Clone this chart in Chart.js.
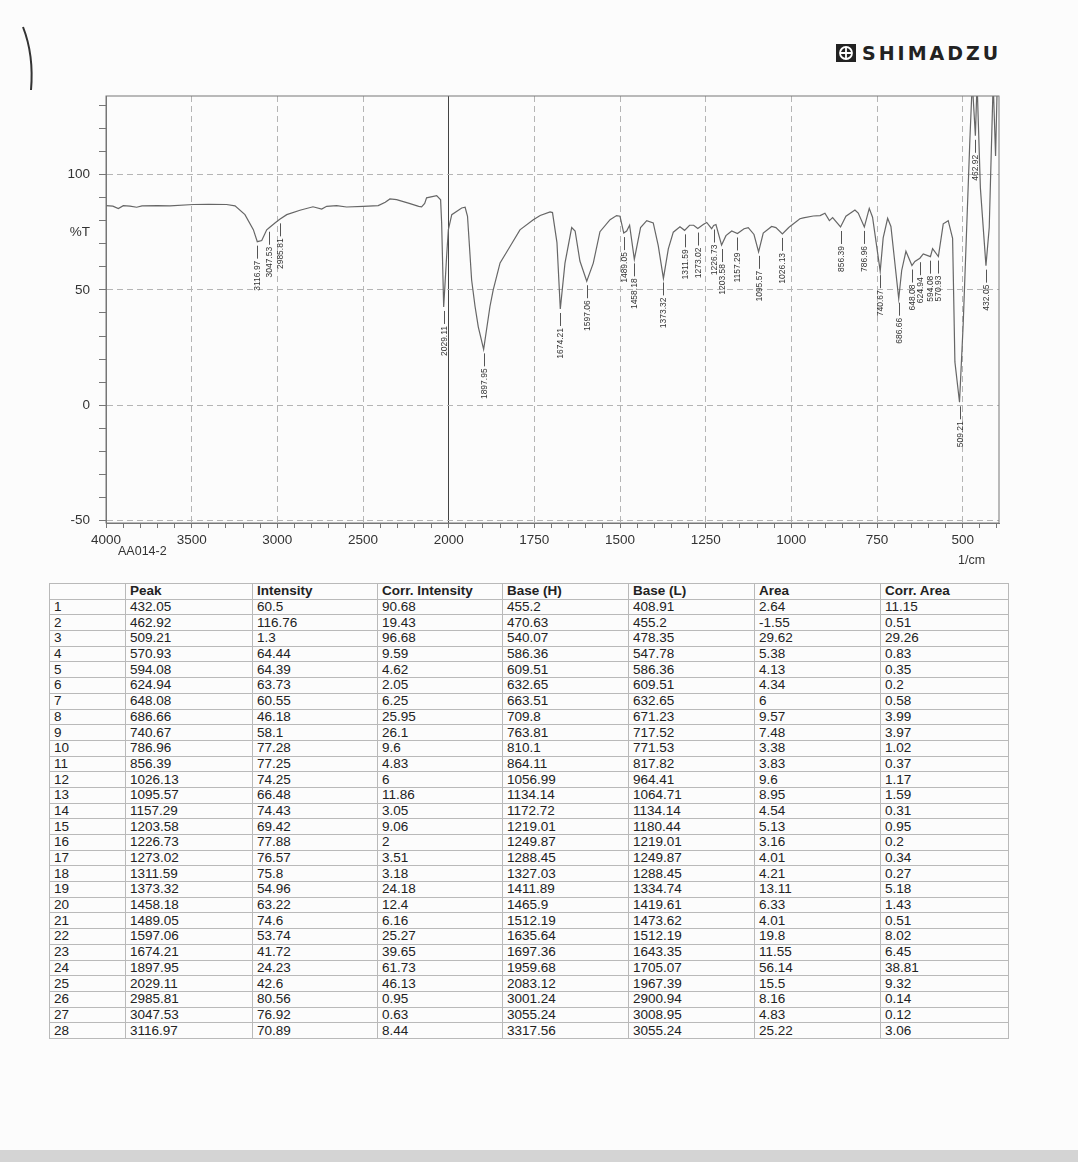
<!DOCTYPE html>
<html>
<head>
<meta charset="utf-8">
<script src="https://cdn.jsdelivr.net/npm/chart.js@4.4.1/dist/chart.umd.min.js"></script>
<style>
  body { margin: 0; width: 1078px; height: 1162px; background: #fcfcfc; overflow: hidden; position: relative;
         font-family: "Liberation Sans", Arial, sans-serif; color: #222; }
  #chartBox { position: absolute; left: 0; top: 0; width: 1078px; height: 575px; }
  #logo { position: absolute; left: 836px; top: 42px; display: flex; align-items: center; }
  #logo span { font-family: "DejaVu Sans", sans-serif; font-weight: bold; font-size: 19px; letter-spacing: 3px; margin-left: 6px; color: #222; }
  .note { position: absolute; font-size: 12.5px; color: #333; }
  #peakTable { position: absolute; left: 49px; top: 583px; width: 959px; border-collapse: collapse; table-layout: fixed; font-size: 13.5px; }
  #peakTable td, #peakTable th { border: 1px solid #b9b9b9; height: 14.7px; padding: 0 0 0 4px; text-align: left; line-height: 14px; white-space: nowrap; font-weight: normal; color: #222; }
  #peakTable th { font-weight: bold; }
  #scanMark { position: absolute; left: 0; top: 0; }
  #bottomBand { position: absolute; left: 0; top: 1150px; width: 1078px; height: 12px; background: #d4d4d4; }
</style>
</head>
<body>
<svg id="scanMark" width="60" height="100"><path d="M23 27 Q34 55 31 90" stroke="#333" stroke-width="2" fill="none"/></svg>
<div id="logo">
  <svg width="20" height="18"><rect x="0" y="0" width="20" height="18" fill="#222"/><circle cx="10" cy="9" r="6" stroke="#fff" stroke-width="1.8" fill="none"/><path d="M10 3 V15 M4 9 H16" stroke="#fff" stroke-width="1.8"/></svg>
  <span>SHIMADZU</span>
</div>
<div id="chartBox"><canvas id="irChart"></canvas></div>
<div class="note" style="left:118px; top:544px;">AA014-2</div>
<div class="note" style="left:958px; top:553px;">1/cm</div>
<table id="peakTable"></table>
<div id="bottomBand"></div>
<script>
// peak table
const peaks = [432.05, 462.92, 509.21, 570.93, 594.08, 624.94, 648.08, 686.66, 740.67, 786.96, 856.39, 1026.13, 1095.57, 1157.29,
  1203.58, 1226.73, 1273.02, 1311.59, 1373.32, 1458.18, 1489.05, 1597.06, 1674.21, 1897.95, 2029.11, 2985.81, 3047.53, 3116.97];
const intensity = [60.5, 116.76, 1.3, 64.44, 64.39, 63.73, 60.55, 46.18, 58.1, 77.28, 77.25, 74.25, 66.48, 74.43,
  69.42, 77.88, 76.57, 75.8, 54.96, 63.22, 74.6, 53.74, 41.72, 24.23, 42.6, 80.56, 76.92, 70.89];
const corrIntensity = [90.68, 19.43, 96.68, 9.59, 4.62, 2.05, 6.25, 25.95, 26.1, 9.6, 4.83, 6, 11.86, 3.05,
  9.06, 2, 3.51, 3.18, 24.18, 12.4, 6.16, 25.27, 39.65, 61.73, 46.13, 0.95, 0.63, 8.44];
const baseH = [455.2, 470.63, 540.07, 586.36, 609.51, 632.65, 663.51, 709.8, 763.81, 810.1, 864.11, 1056.99, 1134.14, 1172.72,
  1219.01, 1249.87, 1288.45, 1327.03, 1411.89, 1465.9, 1512.19, 1635.64, 1697.36, 1959.68, 2083.12, 3001.24, 3055.24, 3317.56];
const baseL = [408.91, 455.2, 478.35, 547.78, 586.36, 609.51, 632.65, 671.23, 717.52, 771.53, 817.82, 964.41, 1064.71, 1134.14,
  1180.44, 1219.01, 1249.87, 1288.45, 1334.74, 1419.61, 1473.62, 1512.19, 1643.35, 1705.07, 1967.39, 2900.94, 3008.95, 3055.24];
const area = [2.64, -1.55, 29.62, 5.38, 4.13, 4.34, 6, 9.57, 7.48, 3.38, 3.83, 9.6, 8.95, 4.54,
  5.13, 3.16, 4.01, 4.21, 13.11, 6.33, 4.01, 19.8, 11.55, 56.14, 15.5, 8.16, 4.83, 25.22];
const corrArea = [11.15, 0.51, 29.26, 0.83, 0.35, 0.2, 0.58, 3.99, 3.97, 1.02, 0.37, 1.17, 1.59, 0.31,
  0.95, 0.2, 0.34, 0.27, 5.18, 1.43, 0.51, 8.02, 6.45, 38.81, 9.32, 0.14, 0.12, 3.06];
const tableHeaders = ['', 'Peak', 'Intensity', 'Corr. Intensity', 'Base (H)', 'Base (L)', 'Area', 'Corr. Area'];

// traced spectrum, wavenumber (1/cm) and %T
const specWn = [4000, 3960, 3928, 3899, 3860, 3821, 3790, 3700, 3627, 3490, 3400, 3296, 3247, 3189, 3140, 3116.97, 3091, 3062,
  3047.53, 3014, 2985.81, 2945, 2868, 2792, 2741, 2712, 2654, 2596, 2499, 2411, 2370, 2343, 2304, 2230, 2175, 2158, 2140, 2129,
  2070, 2047, 2041, 2029.11, 2012, 2002, 1991, 1962, 1952, 1945, 1933, 1923, 1913.6, 1897.95, 1879.5, 1870, 1850, 1821, 1792,
  1753, 1733, 1704, 1697, 1684, 1674.21, 1660.6, 1641, 1631, 1617, 1597.06, 1578, 1558.5, 1529, 1510, 1500, 1489.05, 1480.6,
  1472, 1458.18, 1440, 1422, 1403, 1388.4, 1373.32, 1359, 1344.5, 1325, 1311.59, 1297, 1285, 1273.02, 1257, 1247, 1232.6,
  1226.73, 1220, 1203.58, 1190.8, 1174, 1157.29, 1138, 1125.7, 1109, 1095.57, 1082, 1057.5, 1045, 1026.13, 1009, 1004, 975,
  965, 936, 916, 902, 889, 879.5, 856.39, 840.7, 814.4, 804.8, 786.96, 772.6, 763, 740.67, 732, 719, 709.4, 686.66, 678, 665.6,
  648.08, 639.4, 624.94, 615, 594.08, 587.8, 570.93, 556.7, 542.2, 529.4, 522.7, 509.21, 498.4, 479, 472, 462.92, 458, 448.4,
  432.05, 422.5, 411, 404, 399, 394];
const specT = [86.5, 86.3, 85.2, 86.5, 86.3, 85.8, 86.4, 86.5, 86.4, 87.0, 87.1, 87.0, 86.4, 82.6, 76.1, 70.89, 71.4, 76.0,
  76.92, 79.0, 80.56, 82.6, 84.5, 86.0, 85.0, 86.2, 86.5, 85.9, 86.2, 86.5, 88.0, 89.4, 89.1, 87.5, 86.2, 86.0, 87.5, 89.9,
  90.8, 89.0, 79.0, 42.6, 64.5, 76.0, 82.6, 85.5, 85.8, 81.9, 54.3, 42.8, 34.0, 24.23, 42.8, 50.0, 61.7, 68.8, 76.0,
  80.4, 82.2, 83.8, 83.5, 70.5, 41.72, 61.6, 77.0, 75.5, 62.5, 53.74, 61.6, 75.2, 80.4, 82.2, 81.9, 74.6, 75.5,
  78.0, 63.22, 77.0, 80.0, 79.0, 69.2, 54.96, 67.8, 75.0, 77.3, 75.8, 78.0, 78.0, 76.57, 78.3, 79.2, 76.5,
  77.88, 78.3, 69.42, 73.5, 75.5, 74.43, 76.5, 77.0, 74.0, 66.48, 74.6, 77.5, 77.0, 74.25, 76.8, 77.5, 80.8,
  81.2, 82.0, 82.2, 83.2, 80.0, 81.3, 77.25, 81.9, 84.6, 83.3, 77.28, 85.3, 81.5, 58.1, 72.5, 81.0, 77.5, 46.18, 58.4, 66.7,
  60.55, 62.3, 63.73, 65.6, 64.39, 67.9, 64.44, 78.6, 80.0, 72.3, 18.8, 1.3, 35.5, 115, 140, 116.76, 140, 94.3,
  60.5, 77, 140, 108, 140, 140];

// axis ticks
const xMajor = [4000, 3500, 3000, 2500, 2000, 1750, 1500, 1250, 1000, 750, 500];
const xTicks = [];
for (let v = 4000; v >= 2000; v -= 100) xTicks.push(v);
for (let v = 1950; v >= 400; v -= 50) xTicks.push(v);
const yMajor = [-50, 0, 50, 100];
const yTicks = [-50, -40, -30, -20, -10, 0, 10, 20, 30, 40, 50, 60, 70, 75, 80, 90, 100, 110, 120, 130];

// build the table
const tbl = document.getElementById('peakTable');
const widths = [76, 127, 125, 125, 126, 126, 126, 128];
let html = '<colgroup>' + widths.map(w => `<col style="width:${w}px">`).join('') + '</colgroup>';
html += '<tr>' + tableHeaders.map(h => `<th>${h}</th>`).join('') + '</tr>';
peaks.forEach((p, i) => {
  const row = [i + 1, p, intensity[i], corrIntensity[i], baseH[i], baseL[i], area[i], corrArea[i]];
  html += '<tr>' + row.map(v => `<td>${v}</td>`).join('') + '</tr>';
});
tbl.innerHTML = html;

// x axis: 4000-2000 compressed to half the scale of 2000-400
class BreakScale extends Chart.LinearScale {
  toU(v) { return v >= 2000 ? (4000 - v) / 2 : 1000 + (2000 - v); }
  getPixelForValue(v) {
    const u0 = this.toU(this.max), u1 = this.toU(this.min);
    return this.left + (this.toU(v) - u0) / (u1 - u0) * this.width;
  }
  getValueForPixel(p) {
    const u0 = this.toU(this.max), u1 = this.toU(this.min);
    const u = u0 + (p - this.left) / this.width * (u1 - u0);
    return u <= 1000 ? 4000 - 2 * u : 2000 - (u - 1000);
  }
}
BreakScale.id = 'irbreak';
BreakScale.defaults = Chart.LinearScale.defaults;
Chart.register(BreakScale);

// frame + peak labels
const peakLabels = {
  id: 'peakLabels',
  afterDatasetsDraw(chart) {
    const { ctx, chartArea: a, scales: { x, y } } = chart;
    ctx.save();
    ctx.strokeStyle = '#777';
    ctx.lineWidth = 1;
    ctx.strokeRect(a.left, a.top, a.right - a.left, a.bottom - a.top);
    ctx.strokeStyle = '#555';
    ctx.fillStyle = '#333';
    ctx.font = '8.5px "Liberation Sans", Arial, sans-serif';
    ctx.textAlign = 'right';
    ctx.textBaseline = 'middle';
    peaks.forEach((p, i) => {
      const px = Math.round(x.getPixelForValue(p)) + 0.5;
      const py = y.getPixelForValue(intensity[i]);
      ctx.beginPath();
      ctx.moveTo(px, py + 4);
      ctx.lineTo(px, py + 17);
      ctx.stroke();
      ctx.save();
      ctx.translate(px, py + 19);
      ctx.rotate(-Math.PI / 2);
      ctx.fillText(String(p), 0, 0);
      ctx.restore();
    });
    ctx.restore();
  }
};

const tickFont = { family: '"Liberation Sans", Arial, sans-serif', size: 13.5 };

new Chart(document.getElementById('irChart'), {
  type: 'line',
  data: {
    datasets: [{
      data: specWn.map((w, i) => ({ x: w, y: specT[i] })),
      borderColor: '#666',
      borderWidth: 1.2,
      pointRadius: 0,
      tension: 0
    }]
  },
  options: {
    responsive: true,
    maintainAspectRatio: false,
    animation: false,
    layout: { padding: { left: 0, top: 96, right: 79, bottom: 0 } },
    plugins: { legend: { display: false }, tooltip: { enabled: false } },
    scales: {
      x: {
        type: 'irbreak',
        min: 394,
        max: 4000,
        afterBuildTicks: s => { s.ticks = xTicks.map(v => ({ value: v })); },
        afterFit: s => { s.height = 52; },
        ticks: {
          autoSkip: false, maxRotation: 0, minRotation: 0, padding: 4,
          color: '#333', font: tickFont,
          callback: v => xMajor.includes(v) ? String(v) : ''
        },
        grid: {
          color: c => {
            const v = c.tick && c.tick.value;
            if (v === 2000) return '#444';
            return xMajor.includes(v) ? '#b5b5b5' : 'rgba(0,0,0,0)';
          },
          tickColor: '#777',
          tickLength: 5,
          lineWidth: 1
        },
        border: {
          color: '#777',
          dash: c => (c.tick && c.tick.value === 2000) ? [] : [6, 4]
        }
      },
      y: {
        min: -51,
        max: 134,
        afterBuildTicks: s => { s.ticks = yTicks.map(v => ({ value: v })); },
        afterFit: s => { s.width = 106; },
        ticks: {
          autoSkip: false, padding: 9, color: '#333', font: tickFont,
          callback: v => v === 75 ? '%T' : (yMajor.includes(v) ? String(v) : '')
        },
        grid: {
          color: c => yMajor.includes(c.tick && c.tick.value) ? '#b5b5b5' : 'rgba(0,0,0,0)',
          tickColor: c => (c.tick && c.tick.value === 75) ? 'rgba(0,0,0,0)' : '#777',
          tickLength: 7
        },
        border: { color: '#777', dash: [6, 4] }
      }
    }
  },
  plugins: [peakLabels]
});
</script>
</body>
</html>
